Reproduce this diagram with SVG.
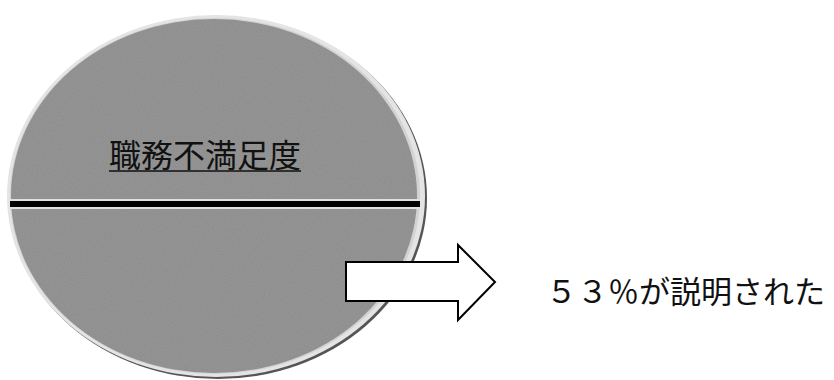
<svg xmlns="http://www.w3.org/2000/svg" width="834" height="380" viewBox="0 0 834 380">
<style>
.t{font-family:"Liberation Serif","Noto Sans CJK JP",serif;font-size:32px;fill:#111}
.s{font-family:"Noto Sans CJK JP","Liberation Sans",sans-serif;font-size:31px;fill:#111}
</style>
<defs>
<filter id="n" x="0" y="0" width="1" height="1">
<feTurbulence type="fractalNoise" baseFrequency="0.9" numOctaves="1" seed="3" result="t"/>
<feColorMatrix in="t" type="matrix" values="0 0 0 0 0.5  0 0 0 0 0.5  0 0 0 0 0.5  0 0 0 0.25 0" result="c"/>
<feComposite in="c" in2="SourceGraphic" operator="in" result="m"/>
<feMerge><feMergeNode in="SourceGraphic"/><feMergeNode in="m"/></feMerge>
</filter>
</defs>
<g id="circle">
<ellipse cx="218" cy="198" rx="209" ry="181" fill="#555"/>
<ellipse cx="216" cy="196" rx="209" ry="181" fill="#e4e4e4"/>
<ellipse cx="215" cy="196" rx="205" ry="178" fill="#d2d2d2"/>
<ellipse cx="214" cy="196" rx="203" ry="177" fill="#8a8a8a" filter="url(#n)"/>
<line x1="10" y1="204" x2="420" y2="204" stroke="#e0e0e0" stroke-width="10"/>
<line x1="10" y1="204" x2="420" y2="204" stroke="#000" stroke-width="6"/>
<text class="t" x="205" y="167" text-anchor="middle">職務不満足度</text>
<line x1="109" y1="171" x2="301" y2="171" stroke="#111" stroke-width="1.5"/>
</g>
<g id="connectors">
<path d="M346,262 H458 V245 L495,282 L458,320 V301 H346 Z" fill="#fff" stroke="#000" stroke-width="2"/>
</g>
<g id="label">
<text class="s" x="546" y="303">５３％が説明された</text>
</g>
</svg>
